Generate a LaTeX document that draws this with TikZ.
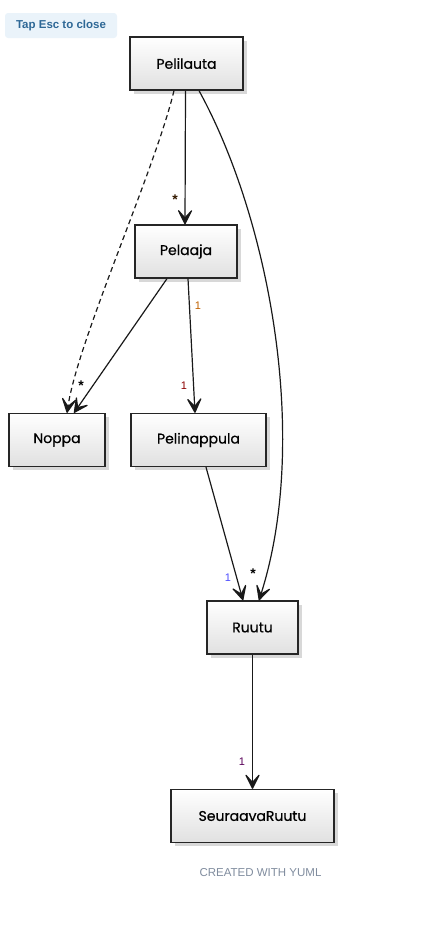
\documentclass[tikz,border=0pt]{standalone}
\usepackage{fontspec}
\setmainfont{Poppins}
\newfontfamily\clsfont[FakeBold=0.6]{Poppins}
\newfontfamily\uifont{Liberation Sans}
\usetikzlibrary{arrows.meta,shadows,positioning}
\definecolor{escblue}{RGB}{46,104,150}
\definecolor{escfill}{RGB}{234,243,250}
\definecolor{footgray}{RGB}{128,140,158}
\tikzset{
  cls/.style={rectangle,draw=black!85,line width=1.3pt,top color=white,bottom color=black!12,
    drop shadow={shadow xshift=3.5pt,shadow yshift=-3.5pt,fill=black!30,opacity=.5},
    minimum height=53pt,inner sep=0pt,font=\clsfont\fontsize{14}{16}\selectfont},
  asc/.style={-{Stealth[length=18pt,width=18pt,inset=10pt,round]},line width=1.2pt,draw=black!90},
  ascd/.style={asc,dashed,dash pattern=on 5pt off 3.5pt},
  mul/.style={font=\uifont\fontsize{11}{12}\selectfont,inner sep=0pt},
  star/.style={font=\uifont\bfseries\fontsize{14}{14}\selectfont,inner sep=0pt},
}
\begin{document}
\begin{tikzpicture}[x=1pt,y=-1pt]
\useasboundingbox (0,0) rectangle (421,927);
% ---------------- badge + footer
\node[fill=escfill,rounded corners=3pt,minimum width=112pt,minimum height=25pt,
  text=escblue,font=\uifont\bfseries\fontsize{11.5}{12}\selectfont] (esc) at (61,25.5) {Tap Esc to close};
\node[text=footgray,font=\uifont\fontsize{11.5}{12}\selectfont] (yuml) at (260.5,873) {CREATED WITH YUML};
% ---------------- classes
\node[cls,minimum width=113pt] (pelilauta) at (186.5,63.5) {Pelilauta};
\node[cls,minimum width=102pt] (pelaaja) at (186,251.5) {Pelaaja};
\node[cls,minimum width=96pt] (noppa) at (57,440) {Noppa};
\node[cls,minimum width=135pt] (pelinappula) at (198.5,440) {Pelinappula};
\node[cls,minimum width=91pt] (ruutu) at (252.5,627.5) {Ruutu};
\node[cls,minimum width=163pt] (seuraava) at (252.5,816) {SeuraavaRuutu};
% ---------------- associations
\draw[asc] ([xshift=-1pt]pelilauta.south) -- ([xshift=-1pt]pelaaja.north);
\draw[ascd] ([xshift=-12.5pt]pelilauta.south) .. controls (155,170) and (78,340) .. ([xshift=10pt]noppa.north);
\draw[asc] ([xshift=-19pt]pelaaja.south) -- ([xshift=17pt]noppa.north);
\draw[asc] ([xshift=2pt]pelaaja.south) -- ([xshift=-3.5pt]pelinappula.north);
\draw[asc] ([xshift=12.5pt]pelilauta.south) .. controls (270,220) and (310,440) .. ([xshift=6.5pt]ruutu.north);
\draw[asc] ([xshift=7.5pt]pelinappula.south) -- ([xshift=-9.5pt]ruutu.north);
\draw[asc] (ruutu.south) -- (seuraava.north);
% ---------------- multiplicities
\node[star,text=black!80!orange] (m1) at (175,200) {*};
\node[star,text=black] (m2) at (81,386) {*};
\node[mul,text=orange!75!black] (m3) at (198,306) {1};
\node[mul,text=red!55!black] (m4) at (184,386) {1};
\node[star,text=black] (m5) at (253,574) {*};
\node[mul,text=blue!70] (m6) at (228,578) {1};
\node[mul,text=violet!70!black] (m7) at (242,762) {1};
\end{tikzpicture}
\end{document}
